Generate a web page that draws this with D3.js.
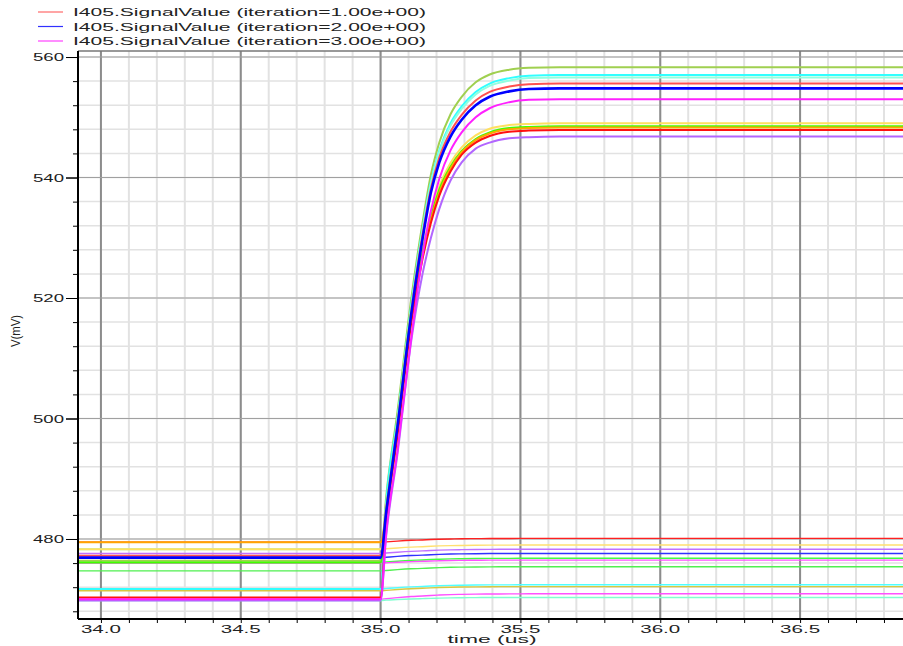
<!DOCTYPE html>
<html><head><meta charset="utf-8">
<script src="https://cdn.jsdelivr.net/npm/d3@7"></script>
<style>body{margin:0;background:#fff;}svg{display:block;font-family:"Liberation Sans",Arial,sans-serif;}</style>
</head><body>
<svg id="c" width="903" height="646"></svg>
<script>
// ---- data ----
const legendLabels = ["I405.SignalValue (iteration=1.00e+00)","I405.SignalValue (iteration=2.00e+00)","I405.SignalValue (iteration=3.00e+00)"];
const legendColors = ["#ff6a6a","#3030ff","#ff40ff"];
const xTicks = [34.0, 34.5, 35.0, 35.5, 36.0, 36.5];
const yTicks = [480, 500, 520, 540, 560];
const times = [33.918, 35.0, 35.02, 35.06, 35.11, 35.15, 35.18, 35.21, 35.25, 35.29, 35.34, 35.39, 35.46, 35.53, 35.64, 36.868];

// rising traces (mV)
const riseYellowGreen = [476.4,476.4,487,501,520,532.5,540.5,545.8,550.5,553.4,555.8,557.1,557.9,558.2,558.3,558.3];
const riseCyan        = [471.7,471.7,486,500,519,531.5,539.3,544.5,549.0,551.8,554.2,555.6,556.5,556.9,557.0,557.0];
const riseAqua        = [478.3,478.3,485.5,499.5,518.5,531.2,539.0,544.2,548.6,551.4,553.8,555.2,556.1,556.5,556.6,556.6];
const riseLightRed    = [477.2,477.2,485,499,518,530.5,538.2,543.3,547.6,550.4,552.8,554.2,555.1,555.5,555.6,555.6];
const riseBlue        = [476.9,476.9,484.5,498.5,517.5,529.8,537.5,542.5,546.8,549.6,552.0,553.4,554.3,554.7,554.8,554.8];
const riseMagenta     = [470.0,470.0,481,494.5,513.5,527.0,534.5,539.8,544.5,547.5,550.0,551.5,552.5,552.9,553.0,553.0];
const riseLightYellow = [478.3,478.3,485,499,518,528.0,534.0,538.5,542.4,545.0,547.0,548.1,548.7,548.9,549.0,549.0];
const riseGreen       = [476.1,476.1,484.5,498.5,517.5,527.5,533.5,538.0,541.8,544.4,546.4,547.5,548.2,548.4,548.5,548.5];
const riseOrange      = [479.45,479.45,484,497.5,516.5,527.0,533.0,537.5,541.5,544.2,546.2,547.3,548.0,548.2,548.3,548.3];
const riseRed         = [470.3,470.3,483,497,516,526.5,532.5,537.0,541.0,543.8,545.8,546.9,547.6,547.8,547.9,547.9];
const risePurple      = [469.8,469.8,480.5,494,513,524.0,530.0,534.8,539.5,542.5,544.8,545.8,546.5,546.7,546.8,546.8];

// flat traces (mV)
const flatRed         = [479.45,479.45,479.52,479.65,479.78,479.84,479.91,479.96,480.0,480.04,480.06,480.08,480.09,480.1,480.1,480.1];
const flatLightYellow = [478.3,478.3,478.37,478.51,478.65,478.72,478.79,478.85,478.9,478.93,478.96,478.98,478.99,479,479,479];
const flatPurple      = [477.6,477.6,477.67,477.81,477.95,478.02,478.09,478.15,478.2,478.23,478.26,478.28,478.29,478.3,478.3,478.3];
const flatBlue        = [476.9,476.9,476.97,477.11,477.25,477.32,477.39,477.45,477.5,477.53,477.56,477.58,477.59,477.6,477.6,477.6];
const flatGreen       = [476.1,476.1,476.17,476.31,476.45,476.52,476.59,476.65,476.7,476.73,476.76,476.78,476.79,476.8,476.8,476.8];
const flatMagenta     = [476.0,476.0,476.05,476.15,476.25,476.3,476.35,476.39,476.43,476.45,476.47,476.49,476.5,476.5,476.5,476.5];
const flatGreen2      = [474.7,474.7,474.77,474.91,475.05,475.12,475.19,475.25,475.3,475.33,475.36,475.38,475.39,475.4,475.4,475.4];
const flatCyan        = [471.7,471.7,471.77,471.91,472.05,472.12,472.19,472.25,472.3,472.33,472.36,472.38,472.39,472.4,472.4,472.4];
const flatYellow      = [471.4,471.4,471.47,471.61,471.75,471.82,471.89,471.95,472.0,472.03,472.06,472.08,472.09,472.1,472.1,472.1];
const flatMagenta2    = [470.0,470.0,470.09,470.27,470.45,470.54,470.63,470.7,470.77,470.81,470.85,470.87,470.89,470.9,470.9,470.9];
const flatAqua        = [469.8,469.8,469.85,469.95,470.05,470.1,470.15,470.19,470.23,470.25,470.27,470.29,470.3,470.3,470.3,470.3];

const flatSeries = [
  [flatRed,"#ff2020"],[flatLightYellow,"#ffe070"],[flatPurple,"#c070ff"],[flatBlue,"#3030ff"],
  [flatGreen,"#40ff40"],[flatMagenta,"#ff50ff"],[flatGreen2,"#50f050"],[flatCyan,"#50ffff"],
  [flatYellow,"#d8c840"],[flatMagenta2,"#ff50ff"],[flatAqua,"#80ffd0"]
];
const riseSeries = [
  [riseYellowGreen,"#a0d050"],[riseCyan,"#30ffff"],[riseAqua,"#90ffe0"],[riseLightRed,"#ff5050"],
  [riseLightYellow,"#ffe060"],[riseGreen,"#40ff00"],[riseOrange,"#ffa500"],[riseRed,"#ff1010"],
  [risePurple,"#b266ff"],[riseMagenta,"#ff20ff"],[riseBlue,"#0000ff"]
];

// ---- layout ----
const svg = d3.select("#c");
const L = 78, R = 903, T = 51, B = 619;
const x = d3.scaleLinear().domain([33.918, 36.868]).range([L, R]);
const y = d3.scaleLinear().domain([466.72, 561.0]).range([B, T]);

// minor grid
const minorX = d3.range(34.0, 36.87, 0.1).map(v => +v.toFixed(1));
const minorY = d3.range(468, 561, 4);
const g = svg.append("g");
g.selectAll(".mx").data(minorX).join("line")
  .attr("x1", d => x(d)).attr("x2", d => x(d)).attr("y1", T).attr("y2", B)
  .attr("stroke", "#e2e2e2").attr("stroke-width", 2);
g.selectAll(".my").data(minorY).join("line")
  .attr("x1", L).attr("x2", R).attr("y1", d => y(d)).attr("y2", d => y(d))
  .attr("stroke", "#e2e2e2").attr("stroke-width", 1.5);
// major grid
g.selectAll(".Mx").data(xTicks).join("line")
  .attr("x1", d => x(d)).attr("x2", d => x(d)).attr("y1", T).attr("y2", B)
  .attr("stroke", "#8c8c8c").attr("stroke-width", 2);
g.selectAll(".My").data(yTicks).join("line")
  .attr("x1", L).attr("x2", R).attr("y1", d => y(d)).attr("y2", d => y(d))
  .attr("stroke", "#a0a0a0").attr("stroke-width", 1.2);
// top border
svg.append("line").attr("x1", L).attr("x2", R).attr("y1", T).attr("y2", T).attr("stroke", "#777").attr("stroke-width", 1.5);

// traces
const line = d3.line().curve(d3.curveMonotoneX).x((d, i) => x(times[i])).y(d => y(d));
const tr = svg.append("g").attr("fill", "none");
flatSeries.forEach(([vals, col]) => tr.append("path").attr("d", line(vals)).attr("stroke", col).attr("stroke-width", 1.4));
riseSeries.forEach(([vals, col]) => tr.append("path").attr("d", line(vals)).attr("stroke", col)
  .attr("stroke-width", col === "#0000ff" ? 2.6 : 2.0));

// axes
const yAxis = d3.axisLeft(y).tickValues(minorY.concat(yTicks)).tickSize(5).tickFormat("");
const yg = svg.append("g").attr("transform", `translate(${L},0)`).call(yAxis);
yg.selectAll(".tick line").attr("stroke", "#000").attr("x2", d => yTicks.includes(d) ? -12 : -5);
yg.select(".domain").attr("stroke", "#000").attr("stroke-width", 2).attr("d", `M0,${T}V${B}`);
yg.selectAll(".ylab").data(yTicks).join("text")
  .attr("x", -14).attr("y", d => y(d) + 4).attr("text-anchor", "end")
  .attr("font-size", 11).attr("fill", "#222").attr("textLength", 31).attr("lengthAdjust", "spacingAndGlyphs")
  .text(d => d);

const xAxis = d3.axisBottom(x).tickValues(minorX).tickSize(4).tickFormat("");
const xg = svg.append("g").attr("transform", `translate(0,${B})`).call(xAxis);
xg.selectAll(".tick line").attr("stroke", "#000");
xg.select(".domain").attr("stroke", "#000").attr("stroke-width", 2).attr("d", `M${L},0H${R}`);
xg.selectAll(".xlab").data(xTicks).join("text")
  .attr("x", d => x(d)).attr("y", 14).attr("text-anchor", "middle")
  .attr("font-size", 11).attr("fill", "#222").attr("textLength", 40).attr("lengthAdjust", "spacingAndGlyphs")
  .text(d => d.toFixed(1));

svg.append("text").attr("x", 492).attr("y", 643).attr("text-anchor", "middle")
  .attr("font-size", 11).attr("fill", "#222").attr("textLength", 89).attr("lengthAdjust", "spacingAndGlyphs")
  .text("time (us)");
svg.append("text").attr("transform", "translate(20,331) rotate(-90)").attr("text-anchor", "middle")
  .attr("font-size", 13).attr("fill", "#222").attr("textLength", 32).attr("lengthAdjust", "spacingAndGlyphs")
  .text("V(mV)");

// legend
const lg = svg.append("g");
legendLabels.forEach((lab, i) => {
  const ly = 12 + i * 14.5;
  lg.append("line").attr("x1", 38).attr("x2", 63).attr("y1", ly).attr("y2", ly).attr("stroke", legendColors[i]).attr("stroke-width", 1.2);
  lg.append("text").attr("x", 73).attr("y", ly + 4).attr("font-size", 11).attr("fill", "#222")
    .attr("textLength", 353).attr("lengthAdjust", "spacingAndGlyphs").text(lab);
});
</script>
</body></html>
